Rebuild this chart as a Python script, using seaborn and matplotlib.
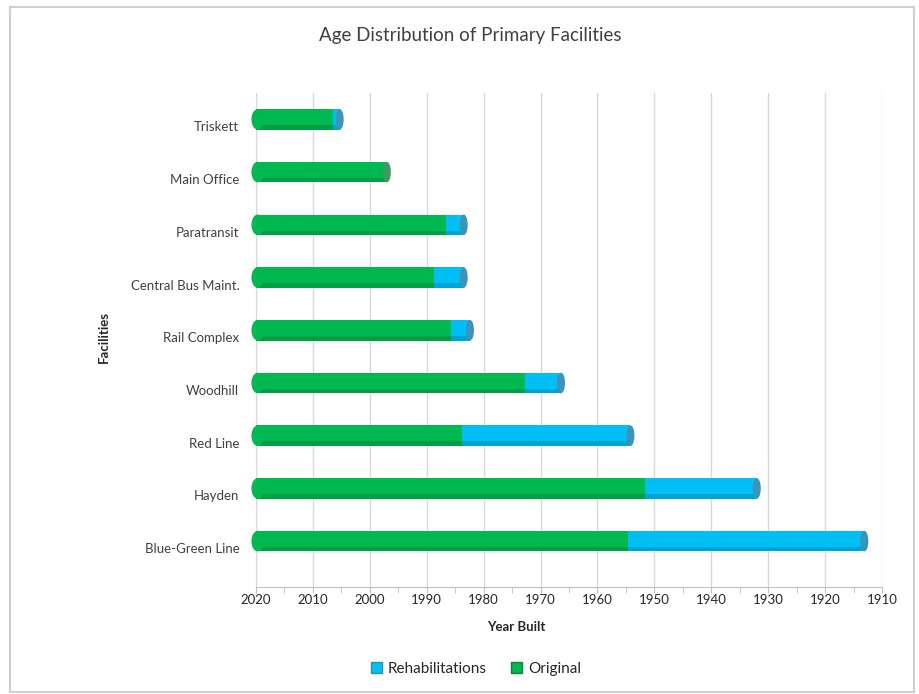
import matplotlib.pyplot as plt
import matplotlib.transforms as mtransforms
import pandas as pd
import seaborn as sns
from matplotlib.patches import Ellipse, Patch, Rectangle
from matplotlib.ticker import FuncFormatter, MultipleLocator

# values (years of age counted back from 2020)
facilities = [
    "Triskett",
    "Main Office",
    "Paratransit",
    "Central Bus Maint.",
    "Rail Complex",
    "Woodhill",
    "Red Line",
    "Hayden",
    "Blue-Green Line",
]
original = [13.5, 23.0, 33.3, 31.3, 34.3, 47.3, 36.2, 68.3, 65.3]
rehabilitations = [1.2, 0.0, 3.2, 5.2, 3.3, 6.3, 29.6, 19.7, 41.6]
base_year = 2020
oldest_year = 1910

GREEN = "#00B850"
BLUE = "#00BFF5"

df = pd.DataFrame({
    "facility": facilities,
    "original": original,
    "rehab": rehabilitations,
})
df["total"] = df["original"] + df["rehab"]

sns.set_style("white")
plt.rcParams["font.family"] = ["Lato", "DejaVu Sans"]

W, H = 919, 694
fig = plt.figure(figsize=(W / 100, H / 100), dpi=100)
ax = fig.add_axes([256 / W, 1 - 587 / H, 626 / W, (587 - 93) / H])

# rehab segment sits at the far end, so draw the total first and the original over it
sns.barplot(data=df, x="total", y="facility", orient="h", color=BLUE,
            saturation=1, width=0.39, linewidth=0, ax=ax, zorder=3)
n = len(ax.patches)
sns.barplot(data=df, x="original", y="facility", orient="h", color=GREEN,
            saturation=1, width=0.39, linewidth=0, ax=ax, zorder=4)
bars = list(ax.patches)

# soft darker lower band on each bar for a bit of the cylinder look
for i, bar in enumerate(bars):
    fc = bar.get_facecolor()
    shade = tuple(c * 0.86 for c in fc[:3])
    h = bar.get_height()
    z = 3.5 if i < n else 4.5
    ax.add_patch(Rectangle((bar.get_x(), bar.get_y() + h * 0.78), bar.get_width(), h * 0.22,
                           facecolor=shade, edgecolor="none", zorder=z))

# rounded start and elliptical end caps
for i in range(n):
    total_bar = bars[i]
    h = total_bar.get_height()
    yc = total_bar.get_y() + h / 2
    ax.add_patch(Ellipse((0.3, yc), 2.2, h, facecolor=GREEN, edgecolor="none",
                         zorder=4.6, clip_on=False))
    end_color = "#3D93BA" if df["rehab"][i] > 0 else "#3E9A62"
    ax.add_patch(Ellipse((total_bar.get_width(), yc), 1.4, h, facecolor=end_color,
                         edgecolor="none", zorder=5))

ax.set_xlim(0, base_year - oldest_year)
ax.set_ylim(len(facilities) - 1 + 0.87, -0.5)

ax.xaxis.set_major_locator(MultipleLocator(10))
ax.xaxis.set_minor_locator(MultipleLocator(5))
ax.xaxis.set_major_formatter(FuncFormatter(lambda v, _: f"{base_year - v:.0f}"))
ax.xaxis.grid(True, which="major", color="#d9d9d9", linewidth=1, zorder=0)
ax.set_axisbelow(True)

for side in ["top", "right"]:
    ax.spines[side].set_visible(False)
ax.spines["left"].set_color("#d9d9d9")
ax.spines["bottom"].set_color("#bfbfbf")

ax.tick_params(axis="x", which="both", direction="out", length=4, color="#bfbfbf",
               labelsize=9.5, labelcolor="#262626", pad=1, bottom=True)
ax.tick_params(axis="y", length=0, labelsize=9.5, labelcolor="#404040", pad=12)

offset = mtransforms.ScaledTranslation(0, -7 / 100, fig.dpi_scale_trans)
for lbl in ax.get_yticklabels():
    lbl.set_transform(lbl.get_transform() + offset)

ax.set_xlabel("")
ax.set_ylabel("")

fig.text(470 / W, 1 - 36 / H, "Age Distribution of Primary Facilities",
         ha="center", va="center", fontsize=13.5, color="#404040")
fig.text(516 / W, 1 - 627 / H, "Year Built", ha="center", va="center",
         fontsize=9.5, fontweight="bold", color="#262626")
fig.text(104 / W, 1 - 337 / H, "Facilities", ha="center", va="center",
         rotation=90, fontsize=9.5, fontweight="bold", color="#262626")

handles = [
    Patch(facecolor=BLUE, edgecolor="#2E8BB5", label="Rehabilitations"),
    Patch(facecolor=GREEN, edgecolor="#1E7A40", label="Original"),
]
fig.legend(handles=handles, loc="center", bbox_to_anchor=(476 / W, 1 - 669 / H),
           ncol=2, frameon=False, fontsize=11, handlelength=0.7, handleheight=0.7,
           handletextpad=0.4, columnspacing=1.6, labelcolor="#262626")

fig.patches.append(Rectangle((10 / W, 2 / H), 904 / W, 685 / H, transform=fig.transFigure,
                             fill=False, edgecolor="#cfcfcf", linewidth=1.5))

fig.savefig("out.png", dpi=100)
